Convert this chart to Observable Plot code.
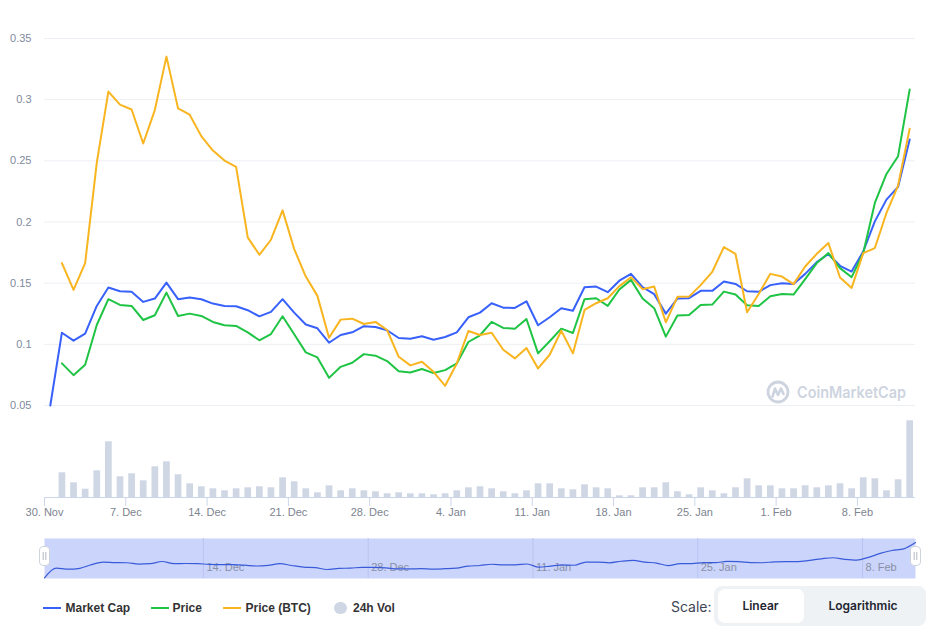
<!DOCTYPE html>
<html><head><meta charset="utf-8">
<script src="https://cdn.jsdelivr.net/npm/d3@7"></script>
<script src="https://cdn.jsdelivr.net/npm/@observablehq/plot@0.6"></script>
<style>
body{margin:0;background:#fff;}
#chart{position:relative;width:938px;height:639px;font-family:"Liberation Sans",Arial,sans-serif;overflow:hidden;}
#chart svg.layer{position:absolute;left:0;}
.abs{position:absolute;}
.leg{position:absolute;top:600px;height:16px;font:bold 12px "Liberation Sans",Arial,sans-serif;line-height:16px;color:#333;white-space:nowrap;}
.sw{position:absolute;top:606.5px;width:18px;height:2.6px;}
</style></head><body><div id="chart"></div>
<script>
// ---- data ----
const startUTC = Date.UTC(2020, 10, 30, 12); // first daily point, 30 Nov 2020 12:00 UTC
const marketCap = [0.050, 0.1095, 0.103, 0.1087, 0.1314, 0.1464, 0.1434, 0.1429, 0.1347, 0.1374,
  0.1505, 0.1369, 0.1382, 0.1369, 0.1333, 0.1314, 0.1311, 0.1279, 0.1229, 0.1265,
  0.1369, 0.1259, 0.1162, 0.1131, 0.1013, 0.1076, 0.1098, 0.1148, 0.1142, 0.1115,
  0.1052, 0.1046, 0.1066, 0.1038, 0.106, 0.1098, 0.1221, 0.1259, 0.1336, 0.130,
  0.1298, 0.1352, 0.1156, 0.1221, 0.1295, 0.1275, 0.1467, 0.1472, 0.1426, 0.152,
  0.1576, 0.1467, 0.141, 0.1251, 0.1374, 0.1377, 0.1437, 0.1437, 0.1513, 0.1494,
  0.1434, 0.1429, 0.1484, 0.150, 0.1494, 0.1576, 0.1672, 0.1738, 0.1642, 0.1595,
  0.1759, 0.2005, 0.2183, 0.2287, 0.2675];
const price = [null, 0.0844, 0.0748, 0.0833, 0.1158, 0.1369, 0.1322, 0.1314, 0.1199, 0.1238,
  0.1423, 0.1232, 0.1251, 0.1232, 0.1183, 0.1156, 0.115, 0.1098, 0.1033, 0.1084,
  0.1229, 0.1082, 0.0934, 0.0893, 0.0726, 0.0816, 0.0849, 0.092, 0.0907, 0.0863,
  0.0779, 0.077, 0.0798, 0.0765, 0.0789, 0.0844, 0.1019, 0.1074, 0.1183, 0.1134,
  0.1128, 0.1207, 0.0926, 0.1025, 0.1128, 0.1093, 0.1369, 0.1377, 0.1314, 0.1448,
  0.1527, 0.1374, 0.1295, 0.1063, 0.1235, 0.124, 0.1322, 0.1325, 0.1431, 0.1407,
  0.1319, 0.1314, 0.1393, 0.1412, 0.1407, 0.1533, 0.1664, 0.1746, 0.1623, 0.1549,
  0.1746, 0.2156, 0.2393, 0.2538, 0.3084];
const priceBTC = [null, 0.1664, 0.1445, 0.1664, 0.2484, 0.3066, 0.2959, 0.292, 0.2642, 0.2915,
  0.3352, 0.2929, 0.2877, 0.2702, 0.2584, 0.2502, 0.2451, 0.1874, 0.1732, 0.1855,
  0.2095, 0.1779, 0.1554, 0.1396, 0.1054, 0.1202, 0.121, 0.1166, 0.1183, 0.1117,
  0.0898, 0.0828, 0.0857, 0.0775, 0.0661, 0.0844, 0.1109, 0.1076, 0.1095, 0.0956,
  0.0885, 0.097, 0.0803, 0.0915, 0.1111, 0.0926, 0.1281, 0.1336, 0.1377, 0.1476,
  0.1549, 0.1451, 0.1472, 0.118, 0.1388, 0.139, 0.1484, 0.1593, 0.1795, 0.174,
  0.1262, 0.1412, 0.1576, 0.1554, 0.1492, 0.1636, 0.174, 0.1828, 0.1546, 0.1461,
  0.1746, 0.1787, 0.2074, 0.2298, 0.2763];
const volume24h = [null, 24.7, 14.7, 8.3, 26.7, 55.7, 20.7, 23.7, 16.7, 30.7,
  35.7, 22.7, 13.7, 10.7, 8.7, 6.7, 8.7, 9.7, 10.7, 9.7,
  19.7, 15.7, 8.7, 4.7, 11.7, 6.7, 8.7, 6.7, 5.7, 3.7,
  4.7, 3.7, 3.7, 2.7, 3.7, 6.7, 9.7, 10.7, 8.7, 5.7,
  3.7, 6.7, 13.7, 13.7, 8.7, 7.7, 12.7, 9.7, 8.7, 1.7,
  1.7, 9.7, 9.7, 14.7, 5.7, 2.7, 9.7, 6.7, 3.7, 9.7,
  18.7, 11.7, 11.7, 8.7, 8.7, 11.7, 9.7, 11.7, 13.7, 8.7,
  19.7, 18.7, 6.7, 17.7, 76.7];
const yTicks = [0.05, 0.1, 0.15, 0.2, 0.25, 0.3, 0.35];
const xTickDates = ["2020-11-30", "2020-12-07", "2020-12-14", "2020-12-21", "2020-12-28", "2021-01-04",
  "2021-01-11", "2021-01-18", "2021-01-25", "2021-02-01", "2021-02-08"];
const navTickDates = ["2020-12-14", "2020-12-28", "2021-01-11", "2021-01-25", "2021-02-08"];
const xDomainDates = ["2020-11-30", "2021-02-13"];
const seriesNames = ["Market Cap", "Price", "Price (BTC)"];
const seriesColors = ["#3861fb", "#1fc444", "#f8b51f"];
const volColor = "#cfd6e4";

// ---- build ----
const rows = marketCap.map((c, i) => ({
  date: new Date(startUTC + i * 864e5), cap: c, price: price[i], btc: priceBTC[i], vol: volume24h[i]
}));
const xDomain = xDomainDates.map(d => new Date(d + "T00:00:00Z"));
const xTicks = xTickDates.map(d => new Date(d + "T00:00:00Z"));
const navTicks = navTickDates.map(d => new Date(d + "T00:00:00Z"));
const fmt = d3.utcFormat("%-d. %b");
const font = '"Liberation Sans", Arial, sans-serif';
const chart = document.getElementById("chart");

const main = Plot.plot({
  width: 938, height: 410, marginLeft: 44, marginRight: 23, marginTop: 38, marginBottom: 5,
  x: {type: "utc", domain: xDomain, axis: null},
  y: {domain: [0.05, 0.35], axis: null},
  style: {background: "transparent", fontFamily: font, fontSize: "11px", color: "#808a9d"},
  marks: [
    Plot.ruleY(yTicks, {stroke: "#eceff3", strokeWidth: 1}),
    Plot.axisY({ticks: yTicks, tickSize: 0, tickPadding: 13, tickFormat: d => String(d), label: null, fill: "#808a9d"}),
    Plot.line(rows.filter(d => d.cap != null), {x: "date", y: "cap", stroke: seriesColors[0], strokeWidth: 2}),
    Plot.line(rows.filter(d => d.price != null), {x: "date", y: "price", stroke: seriesColors[1], strokeWidth: 2}),
    Plot.line(rows.filter(d => d.btc != null), {x: "date", y: "btc", stroke: seriesColors[2], strokeWidth: 2})
  ]
});
main.classList.add("layer"); main.style.top = "0px";
chart.appendChild(main);

const vol = Plot.plot({
  width: 938, height: 125, marginLeft: 44, marginRight: 23, marginTop: 5, marginBottom: 38,
  x: {type: "utc", domain: xDomain},
  y: {domain: [0, 82], axis: null},
  style: {background: "transparent", fontFamily: font, fontSize: "11px", color: "#7d8490"},
  marks: [
    Plot.ruleX(rows.filter(d => d.vol != null), {x: "date", y1: 0, y2: "vol", stroke: volColor, strokeWidth: 6.7}),
    Plot.ruleY([0], {stroke: "#ccd6eb"}),
    Plot.axisX({ticks: xTicks, tickSize: 9, tickPadding: 2, tickFormat: fmt, label: null, stroke: "#ccd6eb", fill: "#7d8490"})
  ]
});
vol.classList.add("layer"); vol.style.top = "410px";
chart.appendChild(vol);

const nav = Plot.plot({
  width: 938, height: 50, marginLeft: 44, marginRight: 23, marginTop: 8, marginBottom: 2,
  x: {type: "utc", domain: [rows[0].date, rows[rows.length - 1].date], axis: null},
  y: {domain: [0.0457, 0.2924], axis: null},
  style: {background: "transparent", fontFamily: font, fontSize: "11px"},
  marks: [
    Plot.frame({fill: "#cbd4fb", stroke: "none"}),
    Plot.ruleX(navTicks, {stroke: "#bac4ef"}),
    Plot.text(navTicks, {x: d => d, frameAnchor: "bottom", dy: -8, dx: 3, textAnchor: "start", text: d => fmt(d), fill: "#8890a6", fontSize: 11}),
    Plot.line(rows, {x: "date", y: "cap", stroke: "#3a5bd9", strokeWidth: 1.2, curve: "monotone-x"})
  ]
});
nav.classList.add("layer"); nav.style.top = "530px";
chart.appendChild(nav);

// navigator handles + watermark + legend + scale switch
const extra = document.createElement("div");
const handle = (cx) => `<svg class="abs" style="left:${cx - 5.5}px;top:546px" width="11" height="20">
  <rect x="0.5" y="0.5" width="10" height="19" rx="3.5" fill="#fff" stroke="#cfd3dc"/>
  <line x1="4.2" y1="6" x2="4.2" y2="14" stroke="#b3b8c4"/><line x1="6.8" y1="6" x2="6.8" y2="14" stroke="#b3b8c4"/></svg>`;
const legendX = [65.5, 172.5, 245.5];
const swatchX = [43, 150.5, 223];
let legendHtml = "";
seriesNames.forEach((n, i) => {
  legendHtml += `<div class="sw" style="left:${swatchX[i]}px;background:${seriesColors[i]}"></div>`;
  legendHtml += `<div class="leg" style="left:${legendX[i]}px">${n}</div>`;
});
legendHtml += `<div class="abs" style="left:334px;top:601.5px;width:12.6px;height:12.6px;border-radius:50%;background:${volColor}"></div>`;
legendHtml += `<div class="leg" style="left:353px">24h Vol</div>`;
extra.innerHTML = handle(44) + handle(915) +
  `<svg class="abs" style="left:764px;top:378px" width="150" height="28">
     <circle cx="14" cy="14" r="10" fill="none" stroke="#cdd4e0" stroke-width="2.8"/>
     <path d="M8.5 18.5 L11 10.5 L14 17 L17 10.5 L19.5 16" fill="none" stroke="#cdd4e0" stroke-width="2.6" stroke-linejoin="round" stroke-linecap="round"/>
     <text x="33" y="20" font-family="Inter, 'Open Sans', sans-serif" font-weight="600" font-size="15.5" fill="#cdd4e0" textLength="109" lengthAdjust="spacingAndGlyphs">CoinMarketCap</text>
   </svg>` +
  legendHtml +
  `<div class="abs" style="left:671px;top:597px;height:20px;font:400 14px Inter,sans-serif;line-height:20px;color:#3f4656">Scale:</div>
   <div class="abs" style="left:714px;top:586px;width:212px;height:39.5px;border-radius:8px;background:#eff2f5"></div>
   <div class="abs" style="left:717.5px;top:589.3px;width:86px;height:33.4px;border-radius:7px;background:#fff;text-align:center;font:600 12px Inter,sans-serif;line-height:33.4px;color:#222531">Linear</div>
   <div class="abs" style="left:812px;top:589.3px;width:102px;height:33.4px;text-align:center;font:600 12px Inter,sans-serif;line-height:33.4px;color:#222531">Logarithmic</div>`;
chart.appendChild(extra);
</script>
</body></html>
